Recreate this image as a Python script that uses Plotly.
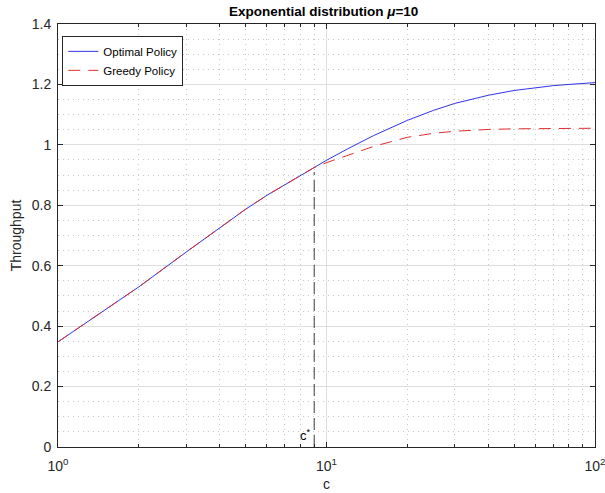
import plotly.graph_objects as go

# Data
c_vals = [1, 2, 3, 4, 5, 6, 7, 8, 9, 10, 12, 15, 20, 25, 30, 40, 50, 60, 70, 80, 90, 100]
optimal = [0.348, 0.530, 0.645, 0.726, 0.787, 0.833, 0.868, 0.898, 0.925, 0.949, 0.987,
           1.031, 1.081, 1.114, 1.137, 1.164, 1.180, 1.190, 1.196, 1.200, 1.203, 1.206]
greedy = [0.348, 0.530, 0.645, 0.726, 0.787, 0.833, 0.868, 0.898, 0.925, 0.941, 0.966,
          0.995, 1.025, 1.038, 1.045, 1.051, 1.053, 1.054, 1.055, 1.055, 1.055, 1.055]
c_star = 9
c_star_top = 0.91

x_major = [1, 10, 100]
x_major_text = ["10<sup>0</sup>", "10<sup>1</sup>", "10<sup>2</sup>"]
x_minor = [2, 3, 4, 5, 6, 7, 8, 9, 20, 30, 40, 50, 60, 70, 80, 90]

font_family = "Liberation Sans, Arial, sans-serif"
axis_color = "#262626"

fig = go.Figure()
fig.add_trace(go.Scatter(x=c_vals, y=optimal, mode="lines", name="Optimal Policy",
                         line=dict(color="rgb(50,50,235)", width=1)))
fig.add_trace(go.Scatter(x=c_vals, y=greedy, mode="lines", name="Greedy Policy",
                         line=dict(color="rgb(225,45,45)", width=1, dash="12px,8px")))
fig.add_trace(go.Scatter(x=[c_star, c_star], y=[0, c_star_top], mode="lines",
                         showlegend=False,
                         line=dict(color="rgb(60,60,60)", width=1, dash="12px,5px")))

fig.add_annotation(x=0.955, y=0, xref="x", yref="y", text="c<sup>*</sup>",
                   showarrow=False, xanchor="right", yanchor="bottom",
                   xshift=-1, yshift=2,
                   font=dict(family=font_family, size=13, color="#000"))
fig.add_annotation(x=0.5, y=-0.0875, xref="paper", yref="paper", text="c",
                   showarrow=False, xanchor="center", yanchor="middle",
                   font=dict(family=font_family, size=14, color=axis_color))

fig.update_layout(
    width=605, height=493,
    margin=dict(l=58, r=10, t=24, b=46),
    paper_bgcolor="white", plot_bgcolor="white",
    font=dict(family=font_family, size=12, color=axis_color),
    title=dict(text="<b>Exponential distribution <i>μ</i>=10</b>",
               x=0.535, xanchor="center", y=0.987, yanchor="top",
               font=dict(size=13.5, color="#000")),
    legend=dict(x=0.008, y=0.972, xanchor="left", yanchor="top",
                bgcolor="white", bordercolor=axis_color, borderwidth=1,
                font=dict(size=11.5, color="#000"), tracegroupgap=0,
                itemwidth=30),
    showlegend=True,
)

fig.update_xaxes(type="log", range=[0, 2], automargin=False,
                 tickmode="array", tickvals=x_major, ticktext=x_major_text,
                 ticks="inside", ticklen=5, tickcolor=axis_color,
                 showline=True, linecolor=axis_color, linewidth=1, mirror="ticks",
                 showgrid=True, gridcolor="rgb(222,222,222)", gridwidth=1,
                 minor=dict(tickmode="array", tickvals=x_minor, ticks="inside",
                            ticklen=3, tickcolor=axis_color, showgrid=True,
                            gridcolor="rgb(200,200,200)", griddash="1px,4px", gridwidth=1),
                 tickfont=dict(size=14), ticklabelstandoff=6,
                 ticklabeloverflow="allow",
                 zeroline=False)
fig.update_yaxes(range=[0, 1.4], automargin=False,
                 tickmode="linear", tick0=0, dtick=0.2,
                 ticks="inside", ticklen=5, tickcolor=axis_color,
                 showline=True, linecolor=axis_color, linewidth=1, mirror="ticks",
                 showgrid=True, gridcolor="rgb(222,222,222)", gridwidth=1,
                 minor=dict(dtick=0.05, showgrid=True, ticks="",
                            gridcolor="rgb(200,200,200)", griddash="1px,4px", gridwidth=1),
                 tickfont=dict(size=14), ticklabelstandoff=3,
                 ticklabeloverflow="allow",
                 title=dict(text="Throughput", standoff=6, font=dict(size=14)),
                 zeroline=False)

fig.write_html("out.html")
